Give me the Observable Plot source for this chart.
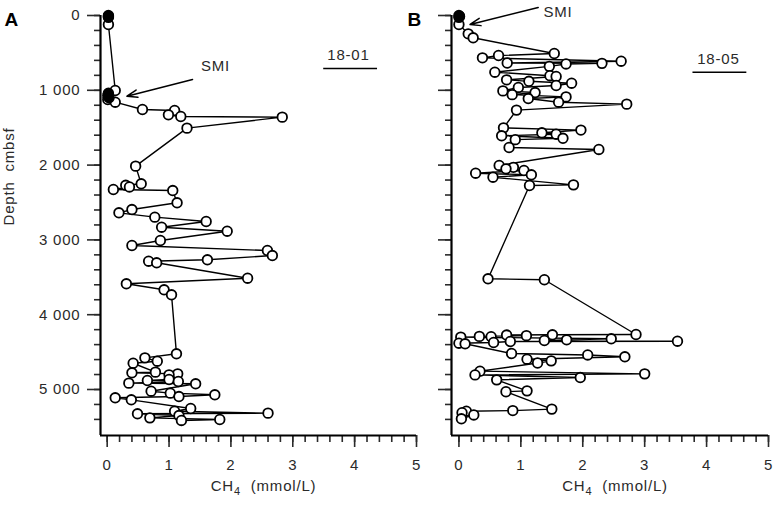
<!DOCTYPE html>
<html>
<head>
<meta charset="utf-8">
<script src="https://cdn.jsdelivr.net/npm/d3@7"></script>
<script src="https://cdn.jsdelivr.net/npm/@observablehq/plot@0.6"></script>
<style>
  body { margin: 0; background: #fff; }
  #wrap { position: relative; width: 775px; height: 505px; background: #fff; overflow: hidden; }
  #wrap > svg { position: absolute; top: 0; }
</style>
</head>
<body>
<div id="wrap"></div>
<script>
// ---------- data ----------
const depthMax = 5615;
const depthMajor = [0, 1000, 2000, 3000, 4000, 5000];
const depthMinor = d3.range(0, 5401, 200);
const ch4Major = [0, 1, 2, 3, 4, 5];
const ch4Minor = d3.range(0, 5.001, 0.2);

// Core 18-01 (panel A)
const aOpenDepth = [120, 1003, 1123, 1159, 1257, 1270, 1328, 1350, 1359, 1506, 2014, 2250, 2270, 2292, 2326, 2340, 2504, 2594, 2638, 2696, 2754, 2830, 2884, 3008, 3075, 3142, 3209, 3266, 3285, 3306, 3512, 3587, 3667, 3734, 4523, 4577, 4622, 4649, 4768, 4777, 4791, 4804, 4866, 4880, 4893, 4915, 4924, 5023, 5049, 5071, 5094, 5111, 5138, 5254, 5290, 5316, 5325, 5348, 5379, 5401, 5414];
const aOpenCH4 = [0.02, 0.13, 0.01, 0.13, 0.57, 1.09, 0.99, 1.19, 2.83, 1.29, 0.46, 0.55, 0.30, 0.36, 0.10, 1.06, 1.13, 0.40, 0.19, 0.77, 1.60, 0.88, 1.94, 0.86, 0.40, 2.59, 2.67, 1.62, 0.67, 0.80, 2.27, 0.31, 0.92, 1.04, 1.12, 0.61, 0.81, 0.42, 0.78, 0.40, 1.14, 1.00, 1.00, 0.65, 1.15, 0.35, 1.43, 0.71, 1.02, 1.74, 1.16, 0.13, 0.39, 1.35, 1.09, 2.60, 0.49, 1.16, 0.69, 1.82, 1.20];
const aSolidDepth = [0, 12, 25, 1040, 1070, 1100];
const aSolidCH4 = [0.02, 0.02, 0.02, 0.02, 0.01, 0.03];

// Core 18-05 (panel B)
const bOpenDepth = [120, 245, 298, 508, 535, 566, 611, 635, 640, 648, 680, 758, 805, 815, 860, 880, 905, 936, 962, 1008, 1030, 1058, 1088, 1110, 1159, 1185, 1265, 1502, 1532, 1568, 1587, 1608, 1642, 1660, 1765, 1791, 2005, 2030, 2050, 2072, 2108, 2130, 2162, 2264, 2273, 3520, 3533, 4265, 4269, 4272, 4280, 4290, 4294, 4300, 4322, 4336, 4345, 4354, 4358, 4372, 4381, 4389, 4519, 4538, 4563, 4595, 4617, 4646, 4755, 4791, 4805, 4840, 4871, 5018, 5030, 5262, 5282, 5290, 5310, 5340, 5392];
const bOpenCH4 = [0.00, 0.15, 0.23, 1.54, 0.64, 0.38, 2.62, 0.78, 2.31, 1.73, 1.46, 0.58, 1.47, 1.57, 0.77, 1.13, 1.82, 1.57, 0.96, 0.71, 1.23, 0.86, 1.73, 1.12, 1.61, 2.71, 0.93, 0.72, 1.97, 1.34, 1.57, 0.69, 1.68, 0.91, 0.81, 2.26, 0.65, 0.88, 0.76, 1.05, 0.27, 1.17, 0.55, 1.85, 1.14, 0.47, 1.38, 2.86, 1.51, 0.77, 1.09, 0.33, 0.52, 0.03, 2.46, 1.74, 1.38, 3.53, 0.83, 0.56, 0.00, 0.10, 0.85, 2.08, 2.68, 1.10, 1.49, 1.27, 0.34, 3.00, 0.26, 1.96, 0.61, 1.10, 0.76, 1.50, 0.87, 0.12, 0.05, 0.24, 0.04];
const bSolidDepth = [0, 12, 25];
const bSolidCH4 = [0.00, 0.01, 0.00];

// annotations (data coordinates)
const aSite = {text: "18-01", x: 3.9, y: 535, x1: 3.5, x2: 4.37, yLine: 709};
const bSite = {text: "18-05", x: 4.19, y: 582, x1: 3.78, x2: 4.65, yLine: 758};
const aSMI = {x: 1.75, y: 682, ax1: 1.38, ay1: 856, ax2: 0.32, ay2: 1079};
const bSMI = {x: 1.60, y: -40, ax1: 1.28, ay1: -107, ax2: 0.18, ay2: 120};

// ---------- drawing ----------
const fmtDepth = d => d === 0 ? "0" : d3.format(",")(d).replace(/,/g, " ");
const fmtCH4 = d => String(d);
const blank = () => "";

function makePanel(cfg) {
  const open = cfg.openDepth.map((d, i) => ({depth: d, ch4: cfg.openCH4[i]}));
  const solid = cfg.solidDepth.map((d, i) => ({depth: d, ch4: cfg.solidCH4[i]}));
  const all = open.concat(solid).sort((a, b) => a.depth - b.depth);
  const marks = [
    Plot.axisY({ticks: depthMinor, tickSize: 6, tickFormat: blank, strokeWidth: 1.6, label: null}),
    Plot.axisY({ticks: depthMajor, tickSize: 13, tickPadding: 7, tickFormat: cfg.yLabels ? fmtDepth : blank, strokeWidth: 1.6, label: null, fontSize: 15}),
    Plot.axisX({ticks: ch4Minor, tickSize: 7, tickFormat: blank, strokeWidth: 1.6, label: null}),
    Plot.axisX({ticks: ch4Major, tickSize: 12, tickPadding: 12, tickFormat: fmtCH4, strokeWidth: 1.6, label: null, fontSize: 15}),
    Plot.ruleX([cfg.xMin], {strokeWidth: 2.2, stroke: "#000"}),
    Plot.ruleY([depthMax], {strokeWidth: 2.2, stroke: "#000"}),
    Plot.line(all, {x: "ch4", y: "depth", stroke: "#000", strokeWidth: 1.4}),
    Plot.dot(open, {x: "ch4", y: "depth", r: 4.8, fill: "#fff", stroke: "#000", strokeWidth: 1.8}),
    Plot.dot(solid, {x: "ch4", y: "depth", r: 4.8, fill: "#000", stroke: "#000", strokeWidth: 1.8}),
    Plot.text([cfg.site], {x: "x", y: "y", text: "text", fontSize: 15}),
    Plot.ruleY([cfg.site], {y: "yLine", x1: "x1", x2: "x2", stroke: "#000", strokeWidth: 1.6}),
    Plot.text([cfg.smi], {x: "x", y: "y", text: () => "SMI", fontSize: 15}),
    Plot.arrow([cfg.smi], {x1: "ax1", y1: "ay1", x2: "ax2", y2: "ay2", stroke: "#000", strokeWidth: 1.5, headLength: 11, headAngle: 40}),
    Plot.text(["CH\u2084  (mmol/L)"], {frameAnchor: "bottom", dy: 55, dx: 5, fontSize: 15, text: d => d}),
    Plot.text([cfg.letter], {frameAnchor: "top-left", dx: cfg.letterDx, dy: -3, fontSize: 19, fontWeight: "bold", textAnchor: "start", text: d => d, fill: "#000"})
  ];
  if (cfg.yLabels) {
    marks.push(Plot.text(["Depth  cmbsf"], {frameAnchor: "left", dx: -91, rotate: -90, fontSize: 15, text: d => d}));
  }
  const svg = Plot.plot({
    width: cfg.width,
    height: 505,
    marginLeft: cfg.marginLeft,
    marginRight: cfg.marginRight,
    marginTop: 15,
    marginBottom: 70,
    style: {background: "transparent", fontFamily: "'Liberation Sans', Arial, sans-serif", fontSize: "15px", letterSpacing: "0.8px", color: "#2a2a2a", overflow: "visible"},
    x: {domain: [cfg.xMin, 5]},
    y: {domain: [0, depthMax], reverse: true},
    marks
  });
  // render the subscript of CH4 as a real lowered, smaller digit
  svg.querySelectorAll("text").forEach(t => {
    if (t.textContent.includes("\u2084")) {
      const ns = "http://www.w3.org/2000/svg";
      const parts = t.textContent.split("\u2084");
      while (t.firstChild) t.removeChild(t.firstChild);
      t.setAttribute("style", (t.getAttribute("style") || "") + ";white-space:pre");
      const a = document.createElementNS(ns, "tspan"); a.textContent = parts[0];
      const s = document.createElementNS(ns, "tspan"); s.textContent = "4";
      s.setAttribute("font-size", "11"); s.setAttribute("dy", "4");
      const b = document.createElementNS(ns, "tspan"); b.textContent = parts[1];
      b.setAttribute("dy", "-4");
      t.append(a, s, b);
    }
  });
  svg.style.left = cfg.left + "px";
  return svg;
}

const wrap = document.getElementById("wrap");
wrap.appendChild(makePanel({
  openDepth: aOpenDepth, openCH4: aOpenCH4, solidDepth: aSolidDepth, solidCH4: aSolidCH4,
  left: 0, width: 425, marginLeft: 100, marginRight: 9, xMin: -0.108,
  yLabels: true, site: aSite, smi: aSMI, letter: "A", letterDx: -96
}));
wrap.appendChild(makePanel({
  openDepth: bOpenDepth, openCH4: bOpenCH4, solidDepth: bSolidDepth, solidCH4: bSolidCH4,
  left: 400, width: 375, marginLeft: 51, marginRight: 7, xMin: -0.12,
  yLabels: false, site: bSite, smi: bSMI, letter: "B", letterDx: -44
}));
</script>
</body>
</html>
